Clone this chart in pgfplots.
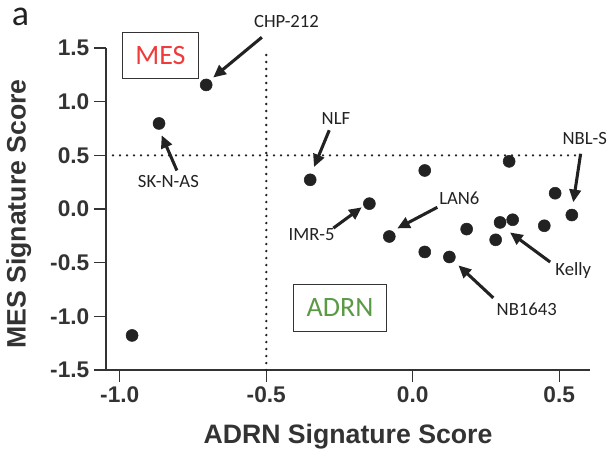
\documentclass[border=0pt]{standalone}
\usepackage{fontspec}
\setmainfont{Liberation Sans}
\newfontfamily\calfont{Carlito}
\usepackage{pgfplots}
\pgfplotsset{compat=1.18}
\usetikzlibrary{arrows.meta}
\definecolor{dotc}{HTML}{222222}
\definecolor{axc}{HTML}{333333}
\definecolor{mesred}{HTML}{EE3B3B}
\definecolor{adrngreen}{HTML}{5B9A45}
\begin{document}
\begin{tikzpicture}
\begin{axis}[
  scale only axis,
  width=363pt, height=241.5pt,
  xmin=-1.047, xmax=0.605,
  ymin=-1.5, ymax=1.5,
  axis lines*=left,
  axis line style={axc, line width=1.1pt},
  every tick/.style={axc, line width=1.1pt},
  tick align=outside,
  major tick length=9pt,
  xtick={-1,-0.5,0,0.5},
  xticklabels={-1.0,-0.5,0.0,0.5},
  ytick={-1.5,-1,-0.5,0,0.5,1,1.5},
  yticklabels={-1.5,-1.0,-0.5,0.0,0.5,1.0,1.5},
  ticklabel style={font=\bfseries\fontsize{17}{17}\selectfont, text=axc},
  xlabel={ADRN Signature Score},
  ylabel={MES Signature Score},
  label style={font=\bfseries\fontsize{20}{20}\selectfont, text=axc},
  xlabel style={at={(axis description cs:0.5,-0.208)}, anchor=center},
  ylabel style={at={(axis description cs:-0.180,0.4845)}, anchor=center},
  clip=false,
]
% reference lines
\draw[dotc, line width=1.9pt, line cap=round, dash pattern=on 0pt off 5.25pt] (axis cs:-1.023,0.5) -- (axis cs:0.564,0.5);
\draw[dotc, line width=1.9pt, line cap=round, dash pattern=on 0pt off 5.25pt] (axis cs:-0.5,-1.5) -- (axis cs:-0.5,1.5);

\addplot[only marks, mark=*, mark size=4.5pt, mark options={fill=dotc, draw=dotc}] coordinates {
(-0.958,-1.178) (-0.866,0.797) (-0.705,1.156) (-0.350,0.272) (-0.148,0.050)
(-0.080,-0.256) (0.041,0.359) (0.041,-0.400) (0.125,-0.447) (0.184,-0.187)
(0.283,-0.287) (0.298,-0.125) (0.341,-0.100) (0.329,0.444) (0.449,-0.156)
(0.486,0.147) (0.543,-0.056)
};

\tikzset{arr/.style={dotc, line width=2.3pt, -{Triangle[length=9.5pt,width=8.5pt]}},
         lab/.style={font=\calfont\fontsize{14}{14}\selectfont, text=dotc, inner sep=0pt}}
% annotations
\node[lab] at (axis cs:-0.431,1.743) {CHP-212};
\draw[arr] (axis cs:-0.515,1.600) -- (axis cs:-0.681,1.225);
\node[lab] at (axis cs:-0.834,0.256) {SK-N-AS};
\draw[arr] (axis cs:-0.805,0.359) -- (axis cs:-0.857,0.687);
\node[lab] at (axis cs:-0.262,0.843) {NLF};
\draw[arr] (axis cs:-0.285,0.734) -- (axis cs:-0.337,0.391);
\node[lab] at (axis cs:0.587,0.656) {NBL-S};
\draw[arr] (axis cs:0.573,0.515) -- (axis cs:0.548,0.063);
\node[lab] at (axis cs:-0.345,-0.234) {IMR-5};
\draw[arr] (axis cs:-0.271,-0.178) -- (axis cs:-0.174,0.016);
\node[lab] at (axis cs:0.159,0.100) {LAN6};
\draw[arr] (axis cs:0.084,0.016) -- (axis cs:-0.053,-0.181);
\node[lab] at (axis cs:0.548,-0.569) {Kelly};
\draw[arr] (axis cs:0.469,-0.494) -- (axis cs:0.332,-0.218);
\node[lab] at (axis cs:0.389,-0.937) {NB1643};
\draw[arr] (axis cs:0.275,-0.828) -- (axis cs:0.156,-0.525);

% boxes
\draw[axc, line width=0.9pt] (axis cs:-0.990,1.647) rectangle (axis cs:-0.732,1.218);
\node[font=\calfont\fontsize{21}{21}\selectfont, text=mesred] at (axis cs:-0.861,1.4325) {MES};
\draw[axc, line width=0.9pt] (axis cs:-0.4075,-0.703) rectangle (axis cs:-0.0887,-1.141);
\node[font=\calfont\fontsize{21}{21}\selectfont, text=adrngreen] at (axis cs:-0.248,-0.922) {ADRN};

\node[font=\calfont\fontsize{27}{27}\selectfont, text=dotc, inner sep=0pt] at (axis cs:-1.339,1.79) {a};

\coordinate (bl) at (axis description cs:-0.219,-0.2857);
\coordinate (tr) at (axis description cs:1.0372,1.1491);
\end{axis}
\pgfresetboundingbox
\path[use as bounding box] (bl) rectangle (tr);
\end{tikzpicture}
\end{document}
